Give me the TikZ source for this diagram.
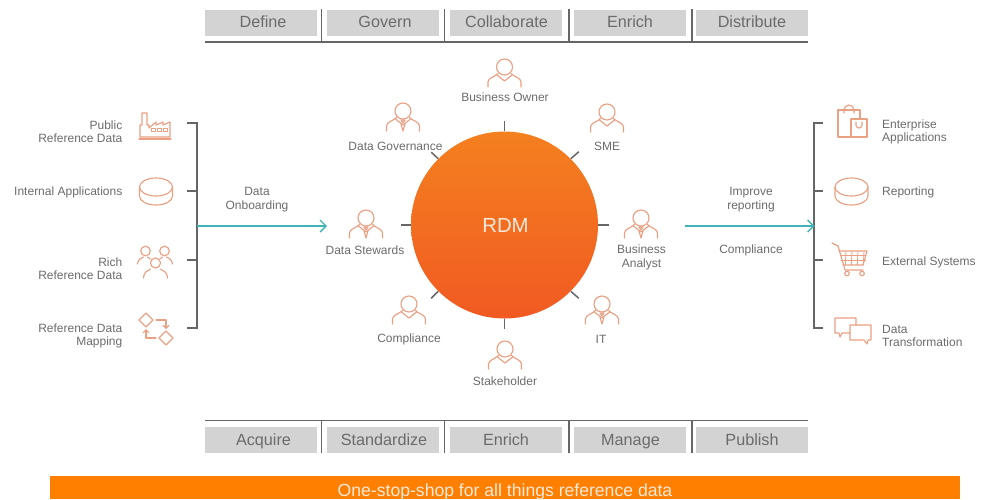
\documentclass[tikz,border=0pt]{standalone}
\usepackage{fontspec}
\setmainfont{Liberation Sans}
\usetikzlibrary{arrows.meta}
\definecolor{icon}{HTML}{E9A083}
\definecolor{txt}{HTML}{6B6B6B}
\definecolor{boxgray}{HTML}{D3D3D3}
\definecolor{rule}{HTML}{666666}
\definecolor{teal}{HTML}{3FB3B8}
\definecolor{barorange}{HTML}{FF7F00}
\definecolor{rdmtop}{HTML}{F4801F}
\definecolor{rdmbot}{HTML}{F15A22}
\definecolor{softwhite}{HTML}{FBE9DA}
\tikzset{
  x=1pt,y=-1pt,
  stagebox/.style={fill=boxgray,minimum width=112pt,minimum height=26pt,inner sep=0pt,text=txt,text height=11.5pt,text depth=3.5pt,font=\fontsize{16.2}{18}\selectfont},
  stagelow/.style={stagebox,text height=12.5pt,text depth=2.5pt},
  lbl/.style={text=txt,font=\fontsize{12}{13.4}\selectfont,inner sep=0pt,align=center,yshift=-1.2pt},
  lblr/.style={lbl,align=right,anchor=east},
  lbll/.style={lbl,align=left,anchor=west},
  rulel/.style={draw=rule,line width=1.5pt},
  tick/.style={draw=rule,line width=1.5pt},
  flow/.style={draw=teal,line width=1.4pt,-{Straight Barb[length=6pt,width=12pt,line width=1.4pt]}},
  ic/.style={draw=icon,line width=1.15pt,line join=round,line cap=round},
  person/.pic={
    \draw[ic] (0,0) circle[radius=8];
    \draw[ic] (-16.5,20) -- (-16.5,15) .. controls (-16.5,11) and (-10,10) .. (-6.5,6.5);
    \draw[ic] (16.5,20) -- (16.5,15) .. controls (16.5,11) and (10,10) .. (6.5,6.5);
    \draw[ic] (-7.5,8) -- (0,14) -- (7.5,8);
  },
  tie/.pic={
    \draw[ic] (-2,9) -- (0,12) -- (2,9) -- cycle (-2,13) -- (0,20) -- (2,13);
  },
  cylinder/.pic={
    \draw[ic] (0,-4.5) ellipse[x radius=16.5,y radius=9];
    \draw[ic] (-16.5,-4.5) -- (-16.5,4.5) arc[start angle=180,end angle=0,x radius=16.5,y radius=9] -- (16.5,-4.5);
  },
  groupp/.pic={
    \draw[ic] (-1,0) circle[radius=4.8] (0,0) ++(18,0) circle[radius=4.8] (9,12) circle[radius=5];
    \draw[ic] (-9,13) .. controls (-9,9) and (-5,7) .. (-3,6) (1,6) .. controls (2,7) and (3,7) .. (4,8);
    \draw[ic] (26,13) .. controls (26,9) and (22,7) .. (20,6) (16,6) .. controls (15,7) and (14,7) .. (13.5,8);
    \draw[ic] (-3,27) .. controls (-3,21) and (1,20) .. (4,18) (21,27) .. controls (21,21) and (17,20) .. (14,18);
  },
}
\begin{document}
\begin{tikzpicture}
\useasboundingbox (0,0) rectangle (984,499);
% stage boxes
\foreach \n/\x/\t/\o in {d/261/Define/4,g/383/Govern/4,c/506/Collaborate/1,e/629.5/Enrich/1,p/752/Distribute/0}
  \node[stagebox] (top\n) at (\x,23) {\hspace*{\o pt}\t};
\foreach \n/\x/\t/\o in {d/261/Acquire/5,g/383/Standardize/2,c/506/Enrich/0,e/629.5/Manage/2,p/752/Publish/0}
  \node[stagelow] (bot\n) at (\x,440) {\hspace*{\o pt}\t};
\coordinate (tl) at (205,42); \coordinate (tr) at (808,42);
\coordinate (bl) at (205,420.5); \coordinate (br) at (808,420.5);
\draw[rulel] (tl) -- (tr);
\draw[rulel] (bl) -- (br);
\foreach \x in {321.5,444.5,569,692} {
  \draw[rulel] (\x,9) -- (\x,42);
  \draw[rulel] (\x,420.5) -- (\x,453);
}
% banner
\node[fill=barorange,minimum width=910pt,minimum height=23pt,inner sep=0pt,text=softwhite,text height=17pt,text depth=0pt,font=\fontsize{17.6}{19}\selectfont] (banner) at (505,487.5) {One-stop-shop for all things reference data};
% central circle
\node[circle,minimum size=187pt,inner sep=0pt,top color=rdmtop,bottom color=rdmbot,text=softwhite,font=\fontsize{20.4}{22}\selectfont] (rdm) at (504.5,225) {\hspace*{2pt}RDM};
\foreach \a/\dx/\dy in {90/0/-10,270/0/10,180/-10/0,0/11/0,45/8/-7,135/-7/-6.5,225/-7/7,315/8/7}
  \draw[tick] (rdm.\a) -- ++(\dx,\dy);
% people
\foreach \px/\py in {504.5/67,403/111,607/112,366/218,641/218,409/304,602/304,505/349}
  \pic at (\px,\py) {person};
\foreach \px/\py in {403/111,366/218,641/218,602/304}
  \pic at (\px,\py) {tie};
\node[lbl] (lbo) at (505,96.5) {Business Owner};
\node[lbl] (ldg) at (395.5,145) {Data Governance};
\node[lbl] (lsme) at (607,145) {SME};
\node[lbl] (lds) at (365,249) {Data Stewards};
\node[lbl] (lba) at (641.5,256) {Business\\Analyst};
\node[lbl] (lco) at (409,338) {Compliance};
\node[lbl] (lit) at (601,338) {IT};
\node[lbl] (lsh) at (505,380) {Stakeholder};
% left bracket
\coordinate (lt) at (197,123); \coordinate (lb) at (197,328); \coordinate (lm) at (197,226);
\draw[rulel] (187,123) -- (lt) -- (lb) -- (187,328);
\draw[rulel] (187,191) -- (197,191);
\draw[rulel] (187,260) -- (197,260);
\coordinate (la) at (327,226);
\draw[flow] (lm) -- (la);
\node[lbl] (lon) at (257,198.5) {Data\\Onboarding};
\node[lblr] (l1) at (122.5,130.5) {Public\\Reference Data};
\node[lblr] (l2) at (122.5,191) {Internal Applications};
\node[lblr] (l3) at (122.5,267.5) {Rich\\Reference Data};
\node[lblr] (l4) at (122.5,334.5) {Reference Data\\Mapping};
% right bracket
\coordinate (rt) at (814,123); \coordinate (rb) at (814,328); \coordinate (rm) at (814.5,226);
\draw[rulel] (823,123) -- (rt) -- (rb) -- (823,328);
\draw[rulel] (823,191) -- (814,191);
\draw[rulel] (823,260) -- (814,260);
\coordinate (ra) at (685,226);
\draw[flow] (ra) -- (rm);
\node[lbl] (lim) at (751,198.5) {Improve\\reporting};
\node[lbl] (lrc) at (751,249) {Compliance};
\node[lbll] (r1) at (882,130.5) {Enterprise\\Applications};
\node[lbll] (r2) at (882,191) {Reporting};
\node[lbll] (r3) at (882,261) {External Systems};
\node[lbll] (r4) at (882,334.5) {Data\\Transformation};
% factory
\draw[ic] (139,139) -- (171,139);
\draw[ic] (140,137) -- (140,125) -- (142,125) -- (142,113) -- (147,113) -- (147,125) -- (149,125) -- (149,128)
  -- (156,122) -- (156,125) -- (163,122) -- (163,125) -- (170,122) -- (170,137) -- cycle;
\foreach \x in {151,157,163} \draw[ic,line width=.8pt] (\x,128) rectangle ++(4,3);
% cylinders
\pic at (156,191.5) {cylinder};
\pic at (851.5,191.5) {cylinder};
% group
\pic at (146.5,251) {groupp};
% mapping
\draw[ic] (146,313) -- (153,320) -- (146,327) -- (139,320) -- cycle;
\draw[ic] (166,331) -- (173,338) -- (166,345) -- (159,338) -- cycle;
\draw[ic,-{Straight Barb[length=3pt,width=6pt]}] (156,320) -- (166,320) -- (166,329);
\draw[ic,-{Straight Barb[length=3pt,width=6pt]}] (156,338) -- (146,338) -- (146,329);
% bags
\draw[ic] (851,137) -- (838,137) -- (838,110) -- (860,110) -- (860,119);
\draw[ic] (851,119) rectangle (867,137);
\draw[ic] (844,113) -- (844,110) arc[start angle=180,end angle=360,radius=5] -- (854,113);
\draw[ic] (856,122) -- (856,125) arc[start angle=180,end angle=0,radius=3] -- (862,122);
% cart
\draw[ic] (832,243) -- (838,246) -- (845,270) -- (863,270);
\draw[ic] (839,251) -- (867,251) -- (863,265) -- (843,265);
\foreach \x in {846,852,858,864} \draw[ic,line width=.8pt] (\x,251) -- (\x-.7,265);
\foreach \y in {255.5,260} \draw[ic,line width=.8pt] (841,\y) -- (866,\y);
\draw[ic] (847,273.5) circle[radius=2.3] (862,273.5) circle[radius=2.3];
% speech
\draw[ic] (850,333) -- (842,333) -- (840,337) -- (839,333) -- (835,333) -- (835,318) -- (856,318) -- (856,325);
\draw[ic] (850,325) -- (871,325) -- (871,340) -- (868,340) -- (867,344) -- (864,340) -- (850,340) -- cycle;
\end{tikzpicture}
\end{document}
